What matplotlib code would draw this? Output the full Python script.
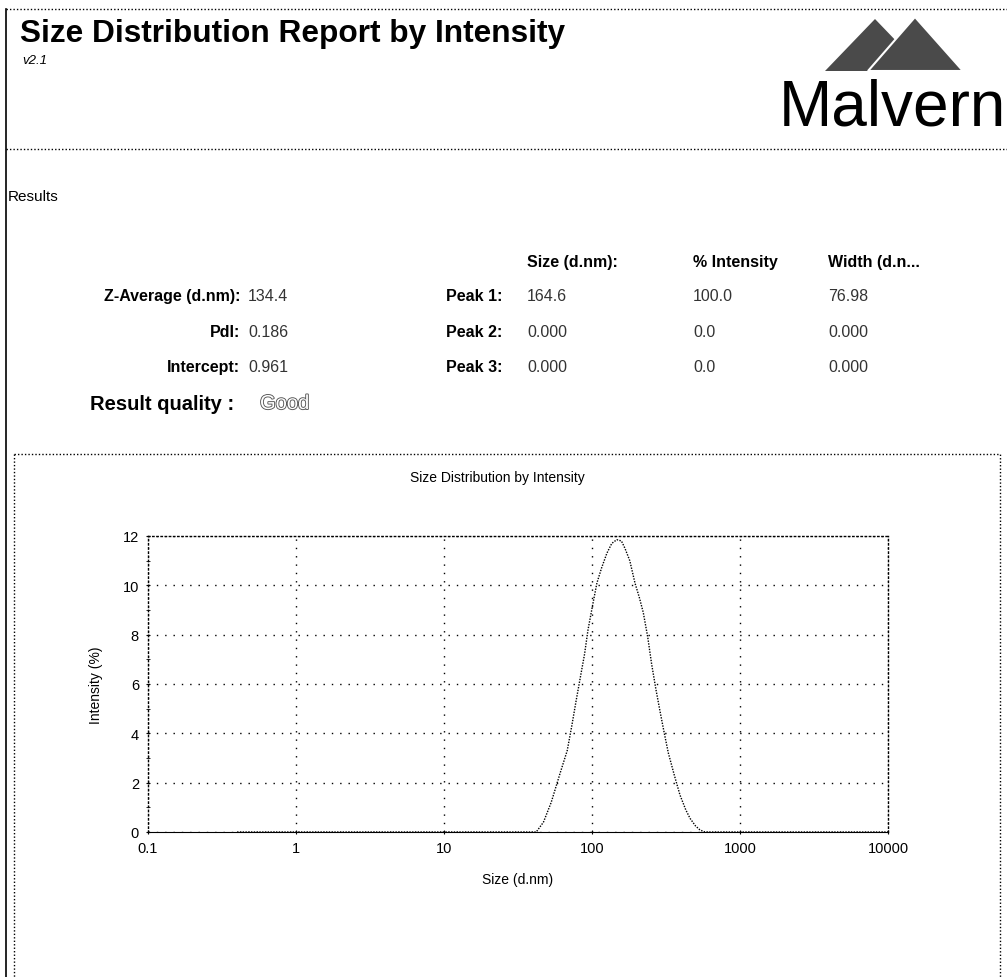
import numpy as np
import matplotlib
matplotlib.use('Agg')
import matplotlib.pyplot as plt
import matplotlib.patheffects as pe
from matplotlib.patches import Polygon

plt.rcParams['font.family'] = ['Liberation Sans', 'DejaVu Sans']

# data
sizes = [0.4, 42, 47, 53, 61, 68, 73, 78, 83, 89, 94, 101, 108, 116, 126, 136, 147,
         158, 167, 180, 195, 209, 222, 238, 253, 270, 288, 308, 328, 360, 393, 430,
         460, 500, 537, 580, 10000]
intensity = [0, 0, 0.4, 1.2, 2.4, 3.3, 4.3, 5.3, 6.2, 7.2, 8.2, 9.2, 10.1, 10.7, 11.3,
             11.7, 11.85, 11.8, 11.5, 11.0, 10.1, 9.5, 8.9, 7.9, 6.8, 5.8, 4.9, 4.0,
             3.2, 2.3, 1.5, 0.9, 0.55, 0.25, 0.08, 0, 0]

left_labels = ['Z-Average (d.nm):', 'PdI:', 'Intercept:']
left_values = ['134.4', '0.186', '0.961']
peak_labels = ['Peak 1:', 'Peak 2:', 'Peak 3:']
col_headers = ['Size (d.nm):', '% Intensity', 'Width (d.n...']
peak_size = ['164.6', '0.000', '0.000']
peak_pct = ['100.0', '0.0', '0.0']
peak_width = ['76.98', '0.000', '0.000']
xticks = [0.1, 1, 10, 100, 1000, 10000]
xticklabels = ['0.1', '1', '10', '100', '1000', '10000']
yticks = [0, 2, 4, 6, 8, 10, 12]

W, H = 1007, 978
fig = plt.figure(figsize=(W / 100, H / 100), dpi=100)

# page layer in pixel coords
bg = fig.add_axes([0, 0, 1, 1])
bg.set_xlim(0, W)
bg.set_ylim(H, 0)
bg.axis('off')

dot = (0, (1, 1.5))
bg.plot([6, W], [10, 10], color='k', lw=1, ls=dot)
bg.plot([6, 6], [10, H], color='k', lw=1.2)
bg.plot([6, W], [150, 150], color='k', lw=1, ls=dot)

bg.text(20, 42, 'Size Distribution Report by Intensity', fontsize=22.8,
        fontweight='bold', va='baseline')
bg.text(22, 64, 'v2.1', fontsize=9.5, style='italic', va='baseline')

# logo
bg.add_patch(Polygon([(825, 72), (875, 20), (925, 72)], closed=True,
                     facecolor='#4a4a4a', edgecolor='none'))
bg.add_patch(Polygon([(868, 72), (915, 18), (963, 72)], closed=True,
                     facecolor='#4a4a4a', edgecolor='white', lw=1.5))
bg.text(779, 125, 'Malvern', fontsize=46, va='baseline')

bg.text(8, 201, 'Results', fontsize=11, va='baseline')

fs = 11.5
hx = [527, 693, 828]
for x, t in zip(hx, col_headers):
    bg.text(x, 267, t, fontsize=fs, fontweight='bold', va='baseline')

rows_y = [301, 337, 372]
for i, y in enumerate(rows_y):
    bg.text(240, y, left_labels[i], fontsize=fs, ha='right', va='baseline',
            fontweight='bold')
    bg.text(248, y, left_values[i], fontsize=fs, va='baseline', color='#333')
    bg.text(502, y, peak_labels[i], fontsize=fs, ha='right', va='baseline',
            fontweight='bold')
    bg.text(hx[0], y, peak_size[i], fontsize=fs, va='baseline', color='#333')
    bg.text(hx[1], y, peak_pct[i], fontsize=fs, va='baseline', color='#333')
    bg.text(hx[2], y, peak_width[i], fontsize=fs, va='baseline', color='#333')

bg.text(90, 410, 'Result quality :', fontsize=14.5, fontweight='bold', va='baseline')
bg.text(260, 410, 'Good', fontsize=14.5, va='baseline', color='white',
        path_effects=[pe.withStroke(linewidth=1.3, foreground='#555')])

# chart box
bg.plot([14, 1000, 1000], [455, 455, H], color='k', lw=1, ls=dot)
bg.plot([14, 14], [455, H], color='k', lw=1, ls=dot)
bg.text(497, 482, 'Size Distribution by Intensity', fontsize=10, ha='center',
        va='baseline')

# plot
ax = fig.add_axes([148 / W, 1 - 833 / H, 740 / W, 296 / H])
ax.set_xscale('log')
ax.set_xlim(0.1, 10000)
ax.set_ylim(0, 12)
ax.plot(sizes, intensity, color='k', lw=1, ls=(0, (1, 1)))
ax.set_xticks(xticks)
ax.set_xticklabels(xticklabels)
ax.set_yticks(yticks)
ax.set_yticks([1, 3, 5, 7, 9, 11], minor=True)
ax.xaxis.set_minor_locator(matplotlib.ticker.NullLocator())
ax.tick_params(axis='both', which='major', labelsize=10.5, length=3, direction='inout',
               pad=5)
ax.tick_params(axis='y', which='minor', length=3, direction='inout')
ax.grid(True, which='major', color='k', lw=1, ls=(0, (1, 5)))
for s in ['top', 'right', 'left']:
    ax.spines[s].set_linestyle((0, (1, 2)))
    ax.spines[s].set_linewidth(1)
ax.spines['bottom'].set_linestyle((0, (1, 1)))
ax.set_xlabel('Size (d.nm)', fontsize=10, labelpad=12)
ax.set_ylabel('Intensity (%)', fontsize=10, labelpad=14)

fig.savefig('out.png', dpi=100)
